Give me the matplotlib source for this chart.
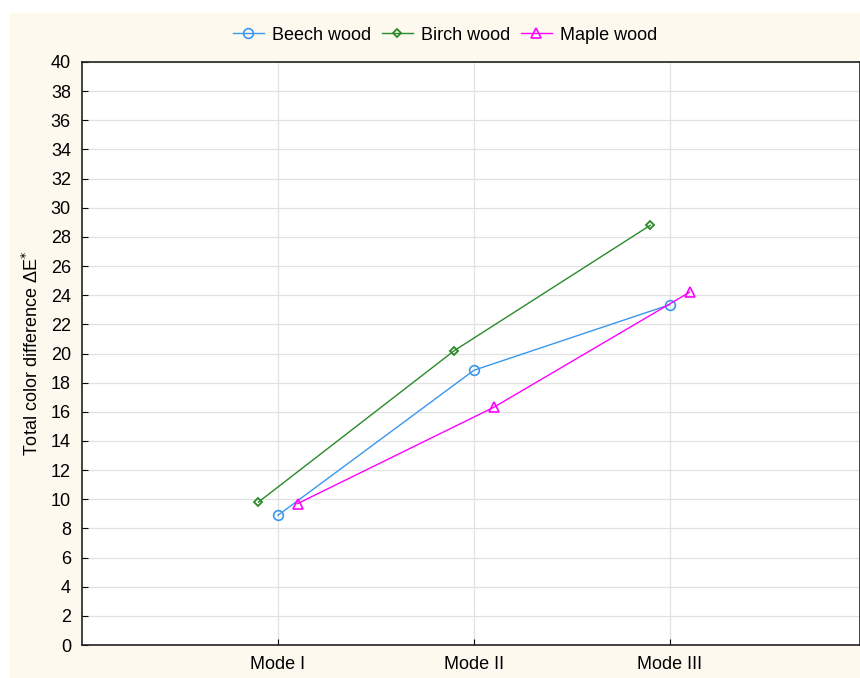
import matplotlib.pyplot as plt
from matplotlib.patches import Rectangle

plt.rcParams['font.family'] = ['Liberation Sans', 'DejaVu Sans']

modes = ['Mode I', 'Mode II', 'Mode III']
beech = [8.9, 18.85, 23.35]
birch = [9.8, 20.2, 28.8]
maple = [9.7, 16.3, 24.2]

fig = plt.figure(figsize=(8.6, 6.78), dpi=100, facecolor='white')
# cream panel behind the plot
fig.patches.append(Rectangle((10 / 860, 0), 1, 1 - 13 / 678, transform=fig.transFigure,
                             facecolor='#fdf9ef', edgecolor='none', zorder=-10))

ax = fig.add_axes([82 / 860, 33 / 678, 1 - 82 / 860, (645 - 62) / 678])
ax.set_zorder(1)
ax.set_facecolor('white')

x = [1, 2, 3]
ax.plot([i - 0.1 for i in x], birch, color='#2a8a2a', marker='D', markersize=4.5,
        markerfacecolor='none', markeredgewidth=1.3, linewidth=1, label='Birch wood')
ax.plot(x, beech, color='#3a96f0', marker='o', markersize=7,
        markerfacecolor='none', markeredgewidth=1.2, linewidth=1, label='Beech wood')
ax.plot([i + 0.1 for i in x], maple, color='#ff00ff', marker='^', markersize=7,
        markerfacecolor='none', markeredgewidth=1.2, linewidth=1, label='Maple wood')

ax.set_xlim(0, 3.97)
ax.set_ylim(0, 40)
ax.set_yticks(range(0, 41, 2))
ax.set_xticks(x)
ax.set_xticklabels(modes)
ax.tick_params(direction='in', length=4, labelsize=13, colors='black', width=0.8)
ax.tick_params(axis='y', pad=8)
ax.tick_params(axis='x', pad=8)
ax.grid(True, color='#e2e2e2', linewidth=0.9)
ax.set_axisbelow(True)
for s in ax.spines.values():
    s.set_linewidth(1.2)
    s.set_color('#222222')

ax.set_ylabel('Total color difference ΔE$^{*}$', fontsize=13, labelpad=6)

h, l = ax.get_legend_handles_labels()
order = [1, 0, 2]
fig.legend([h[i] for i in order], [l[i] for i in order], loc='center',
           bbox_to_anchor=(445 / 860, 1 - 35 / 678), ncol=3, frameon=False,
           fontsize=13, handlelength=1.7, columnspacing=0.6, handletextpad=0.45)

fig.savefig('out.png', dpi=100, facecolor=fig.get_facecolor())
